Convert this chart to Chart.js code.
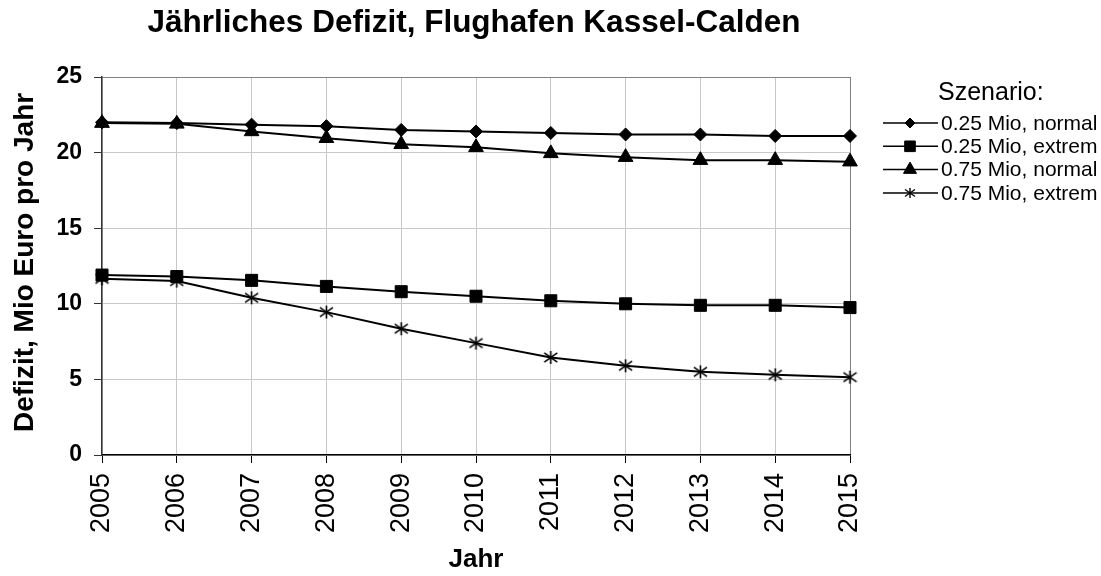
<!DOCTYPE html>
<html>
<head>
<meta charset="utf-8">
<title>Jährliches Defizit, Flughafen Kassel-Calden</title>
<script src="https://cdn.jsdelivr.net/npm/chart.js@4/dist/chart.umd.min.js"></script>
<style>
    html, body { margin: 0; padding: 0; background: #fff; }
    #wrap { width: 1101px; height: 576px; }
</style>
</head>
<body>
<div id="wrap"><canvas id="myChart" width="1101" height="576"></canvas></div>
<script>
// Daten
const years = ['2005', '2006', '2007', '2008', '2009', '2010', '2011', '2012', '2013', '2014', '2015'];
const normal025 = [22.0, 21.95, 21.85, 21.75, 21.5, 21.4, 21.3, 21.2, 21.2, 21.1, 21.1];
const extrem025 = [11.9, 11.8, 11.55, 11.15, 10.8, 10.5, 10.2, 10.0, 9.9, 9.9, 9.75];
const normal075 = [21.95, 21.9, 21.4, 20.95, 20.55, 20.35, 19.95, 19.7, 19.5, 19.5, 19.4];
const extrem075 = [11.65, 11.5, 10.4, 9.45, 8.35, 7.4, 6.45, 5.9, 5.5, 5.3, 5.15];
const seriesNames = ['0.25 Mio, normal', '0.25 Mio, extrem', '0.75 Mio, normal', '0.75 Mio, extrem'];
const yMin = 0;
const yMax = 25;
const yStep = 5;

const chartTitle = 'Jährliches Defizit, Flughafen Kassel-Calden';
const yTitle = 'Defizit, Mio Euro pro Jahr';
const xTitle = 'Jahr';
const legendTitle = 'Szenario:';

const FONT = '"Liberation Sans", Arial, sans-serif';
Chart.defaults.font.family = FONT;
Chart.defaults.color = '#000';

// Stern-Marker wie in Excel (X mit senkrechtem Strich)
function makeStar(size, lw) {
    const c = document.createElement('canvas');
    c.width = size;
    c.height = size;
    const g = c.getContext('2d');
    const m = size / 2;
    const a = size / 2 - 1;
    g.strokeStyle = '#000';
    g.lineWidth = lw;
    g.beginPath();
    g.moveTo(m, m - a); g.lineTo(m, m + a);
    g.moveTo(m - a, m - a * 0.7); g.lineTo(m + a, m + a * 0.7);
    g.moveTo(m + a, m - a * 0.7); g.lineTo(m - a, m + a * 0.7);
    g.stroke();
    return c;
}
const starBig = makeStar(15, 1.6);
const starSmall = makeStar(12, 1.4);

const markers = [
    { style: 'rectRot', radius: 6.5, legendStyle: 'rectRot', legendRadius: 5 },
    { style: 'rect', radius: 8.5, legendStyle: 'rect', legendRadius: 7.5 },
    { style: 'triangle', radius: 8.5, legendStyle: 'triangle', legendRadius: 7.5 },
    { style: starBig, radius: 7, legendStyle: starSmall, legendRadius: 6 }
];

function makeDataset(label, values, i) {
    return {
        label: label,
        data: values,
        borderColor: '#000',
        backgroundColor: '#000',
        borderWidth: 2,
        pointStyle: markers[i].style,
        pointRadius: markers[i].radius,
        pointHoverRadius: markers[i].radius,
        pointBorderWidth: 1,
        pointBackgroundColor: '#000',
        pointBorderColor: '#000',
        tension: 0,
        clip: false
    };
}

// Titel, Achsentitel und Legende
const decor = {
    id: 'decor',
    afterDraw(chart) {
        const ctx = chart.ctx;
        const area = chart.chartArea;
        ctx.save();
        ctx.fillStyle = '#000';

        ctx.font = 'bold 31.5px ' + FONT;
        ctx.textAlign = 'center';
        ctx.textBaseline = 'alphabetic';
        ctx.fillText(chartTitle, 474, 31.5);

        ctx.font = 'bold 26px ' + FONT;
        ctx.textBaseline = 'middle';
        ctx.fillText(xTitle, (area.left + area.right) / 2, 560);

        ctx.save();
        ctx.translate(33, 432);
        ctx.rotate(-Math.PI / 2);
        ctx.font = 'bold 28px ' + FONT;
        ctx.textAlign = 'left';
        ctx.textBaseline = 'alphabetic';
        ctx.fillText(yTitle, 0, 0);
        ctx.restore();

        // Legende
        ctx.font = '25px ' + FONT;
        ctx.textAlign = 'left';
        ctx.textBaseline = 'alphabetic';
        ctx.fillText(legendTitle, 938, 100);

        ctx.font = '21px ' + FONT;
        ctx.textBaseline = 'middle';
        chart.data.datasets.forEach((ds, i) => {
            const y = 123 + i * 23.3;
            ctx.strokeStyle = '#000';
            ctx.lineWidth = 1.5;
            ctx.beginPath();
            ctx.moveTo(883, y);
            ctx.lineTo(938, y);
            ctx.stroke();
            ctx.fillStyle = '#000';
            ctx.strokeStyle = '#000';
            ctx.lineWidth = 1;
            Chart.helpers.drawPoint(ctx, {
                pointStyle: markers[i].legendStyle,
                radius: markers[i].legendRadius,
                rotation: 0,
                borderWidth: 1
            }, 910, y);
            ctx.fillStyle = '#000';
            ctx.fillText(ds.label, 941, y + 1);
        });
        ctx.restore();
    }
};

const ctx = document.getElementById('myChart').getContext('2d');
const myChart = new Chart(ctx, {
    type: 'line',
    data: {
        labels: years,
        datasets: [
            makeDataset(seriesNames[0], normal025, 0),
            makeDataset(seriesNames[1], extrem025, 1),
            makeDataset(seriesNames[2], normal075, 2),
            makeDataset(seriesNames[3], extrem075, 3)
        ]
    },
    options: {
        responsive: false,
        animation: false,
        events: [],
        layout: {
            padding: { top: 77, right: 251, bottom: 0, left: 0 }
        },
        plugins: {
            legend: { display: false },
            title: { display: false },
            tooltip: { enabled: false }
        },
        scales: {
            x: {
                offset: false,
                afterFit: function(scale) { scale.height = 121; },
                grid: {
                    color: c => c.index === years.length - 1 ? '#808080' : '#c8c8c8',
                    lineWidth: 1,
                    tickColor: '#000',
                    tickLength: 8,
                    drawTicks: true
                },
                border: { color: '#000', width: 1.5 },
                ticks: {
                    autoSkip: false,
                    minRotation: 90,
                    maxRotation: 90,
                    padding: 10,
                    color: '#000',
                    font: { size: 27 }
                }
            },
            y: {
                min: yMin,
                max: yMax,
                afterFit: function(scale) { scale.width = 102; },
                grid: {
                    color: c => c.tick && c.tick.value === yMax ? '#808080' : '#c8c8c8',
                    lineWidth: 1,
                    tickColor: '#333',
                    tickLength: 8
                },
                border: { color: '#333', width: 1.5 },
                ticks: {
                    stepSize: yStep,
                    padding: 12,
                    color: '#000',
                    font: { size: 23, weight: 'bold' }
                }
            }
        }
    },
    plugins: [decor]
});
</script>
</body>
</html>
